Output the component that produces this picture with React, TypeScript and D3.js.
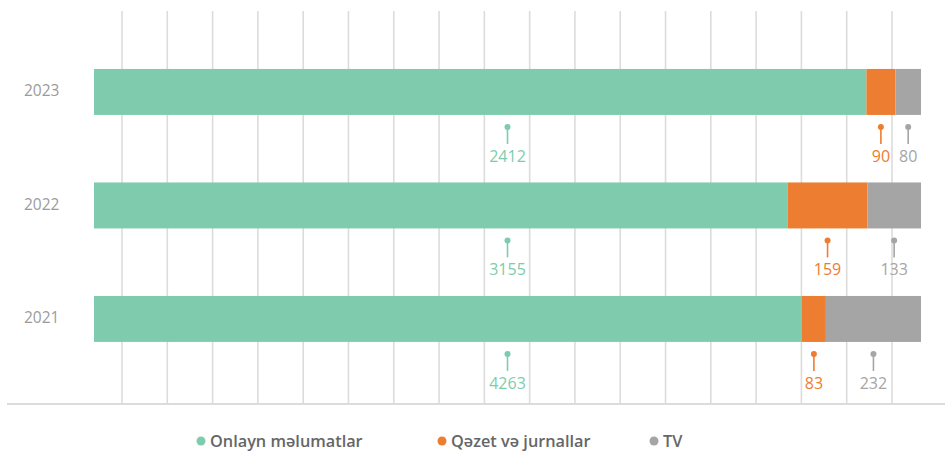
import React from "react";
import * as d3 from "d3";

const years = ["2023", "2022", "2021"];
const seriesNames = ["Onlayn məlumatlar", "Qəzet və jurnallar", "TV"];
const seriesColors = ["#7ECCAD", "#ED7D31", "#A5A5A5"];
// bar shares (percent of bar)
const onlineShare = [93.4, 83.9, 85.6];
const pressShare = [3.5, 9.6, 2.9];
const tvShare = [3.1, 6.5, 11.5];
// value labels
const onlineCount = [2412, 3155, 4263];
const pressCount = [90, 159, 83];
const tvCount = [80, 133, 232];

const W = 945;
const H = 454;
const FONT = "'Open Sans', 'DejaVu Sans', sans-serif";

export default function App() {
  const shares = [onlineShare, pressShare, tvShare];
  const counts = [onlineCount, pressCount, tvCount];

  const x = d3.scaleLinear().domain([0, 100]).range([94, 921]);
  const y = d3
    .scaleBand<string>()
    .domain(years)
    .range([35.2, 375.7])
    .paddingInner(0.595)
    .paddingOuter(0.2975);
  const grid = d3.scaleLinear().domain([0, 17]).range([122, 892]);
  const gridVals = d3.range(0, 18);

  const rows = years.map((yr, i) => {
    const vals = shares.map((s) => s[i]);
    const total = d3.sum(vals);
    let acc = 0;
    const segs = vals.map((v, k) => {
      const start = (acc / total) * 100;
      acc += v;
      const end = (acc / total) * 100;
      return { k, start, end, count: counts[k][i] };
    });
    return { yr, segs };
  });

  const legendX = [201, 442, 654];

  return (
    <div style={{ position: "absolute", left: 0, top: 0 }}>
      <svg width={W} height={H} style={{ display: "block", background: "#fff" }}>
        {gridVals.map((g) => (
          <line
            key={g}
            x1={grid(g)}
            x2={grid(g)}
            y1={11}
            y2={404}
            stroke="#dcdcdc"
            strokeWidth={1.6}
          />
        ))}
        <line x1={7} x2={945} y1={404} y2={404} stroke="#dcdcdc" strokeWidth={2} />
        {rows.map((r) => {
          const y0 = y(r.yr)!;
          const bh = y.bandwidth();
          return (
            <g key={r.yr}>
              <text
                x={24}
                y={y0 + bh / 2 - 1}
                dy="0.35em"
                fontFamily={FONT}
                fontSize={15.5}
                fontWeight={500}
                fill="#9b9b9b"
              >
                {r.yr}
              </text>
              {r.segs.map((s) => (
                <rect
                  key={s.k}
                  x={x(s.start)}
                  y={y0}
                  width={x(s.end) - x(s.start)}
                  height={bh}
                  fill={seriesColors[s.k]}
                />
              ))}
              {r.segs.map((s) => {
                const cx =
                  s.k === 0 ? (x(0) + x(100)) / 2 : (x(s.start) + x(s.end)) / 2;
                const yb = y0 + bh;
                return (
                  <g key={"l" + s.k}>
                    <line
                      x1={cx}
                      x2={cx}
                      y1={yb + 11}
                      y2={yb + 29}
                      stroke={seriesColors[s.k]}
                      strokeWidth={1.6}
                    />
                    <circle cx={cx} cy={yb + 12} r={3} fill={seriesColors[s.k]} />
                    <text
                      x={cx}
                      y={yb + 47}
                      textAnchor="middle"
                      fontFamily={FONT}
                      fontSize={16}
                      fontWeight={500}
                      fill={seriesColors[s.k]}
                    >
                      {s.count}
                    </text>
                  </g>
                );
              })}
            </g>
          );
        })}
        {seriesNames.map((n, k) => (
          <g key={n}>
            <circle cx={legendX[k]} cy={441} r={4.5} fill={seriesColors[k]} />
            <text
              x={legendX[k] + 9}
              y={441}
              dy="0.35em"
              fontFamily={FONT}
              fontSize={16.3}
              fontWeight={600}
              fill="#666"
            >
              {n}
            </text>
          </g>
        ))}
      </svg>
    </div>
  );
}
